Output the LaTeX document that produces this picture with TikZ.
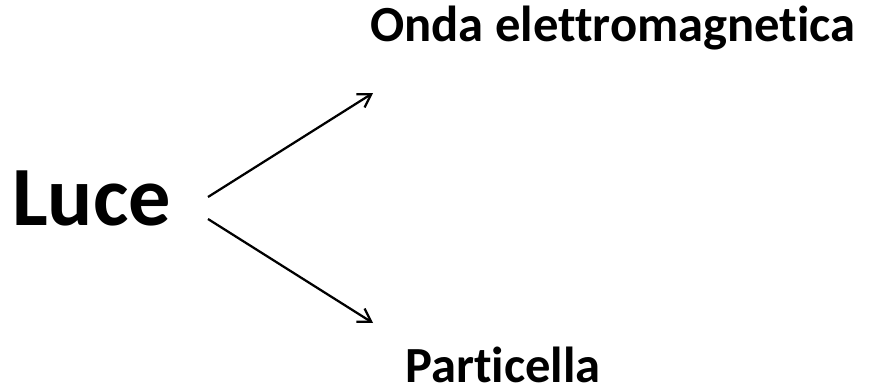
\documentclass[tikz,border=0pt]{standalone}
\usepackage{fontspec}
\setmainfont{Carlito}[Ligatures=NoCommon]
\usetikzlibrary{arrows.meta, positioning}

\begin{document}
\begin{tikzpicture}[
  x=0.025cm, y=-0.025cm,
  bigword/.style={inner sep=0pt, anchor=base west, text depth=0pt, font=\fontsize{60}{66}\selectfont\bfseries},
  word/.style={inner sep=0pt, anchor=base west, text depth=0pt, font=\fontsize{36}{40}\selectfont\bfseries},
  arr/.style={-{Straight Barb[length=9pt, width=11pt, line width=1.6pt]}, line width=1.6pt, color=black}
]
\useasboundingbox (0,0) rectangle (882,388);

% ── Nodes ──────────────────────────────────────────────
\node[bigword] (luce)  at (12, 225) {Luce};
\node[word]    (onda)  at (370, 42) {Onda elettromagnetica};
\node[word]    (part)  at (405, 382) {Particella};

% ── Arrow ends ─────────────────────────────────────────
\coordinate (up0)  at (208, 197);
\coordinate (up1)  at (373, 93);
\coordinate (dn0)  at (208, 219);
\coordinate (dn1)  at (373, 323);

% ── Arrows ─────────────────────────────────────────────
\draw[arr] (up0) -- (up1);
\draw[arr] (dn0) -- (dn1);

\end{tikzpicture}
\end{document}
